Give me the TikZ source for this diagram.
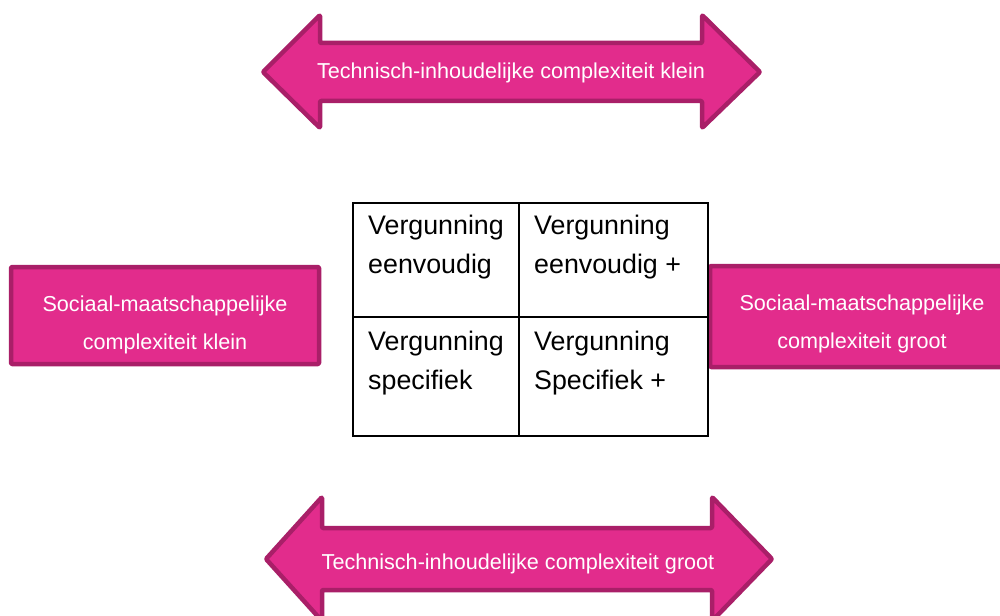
\documentclass[tikz,border=0pt]{standalone}
\usepackage{fontspec}
\setmainfont{Liberation Sans}
\definecolor{pinkfill}{HTML}{E22C8C}
\definecolor{pinkline}{HTML}{A91F68}
\begin{document}
\begin{tikzpicture}[x=1pt,y=-1pt,
  pinkshape/.style={fill=pinkfill,draw=pinkline,line width=4.5pt,line join=round,rounded corners=1pt},
  pinktext/.style={text=white,font=\fontsize{21.6}{25}\selectfont,inner sep=0pt,anchor=base},
  celltext/.style={text=black,font=\fontsize{26.8}{30}\selectfont,inner sep=0pt,anchor=base west},
  gridline/.style={draw=black,line width=2pt}]
\useasboundingbox (0,0) rectangle (1000,615);
\clip (0,0) rectangle (1000,615);
% top arrow
\draw[pinkshape] (263,72) -- (320,15) -- (320,43) -- (702,43) -- (702,15) -- (760,72) -- (702,128) -- (702,101) -- (320,101) -- (320,128) -- cycle;
\node[pinktext] (toptext) at (511,79) {Technisch-inhoudelijke complexiteit klein};
% bottom arrow
\draw[pinkshape] (266,559) -- (322,497) -- (322,528) -- (712,528) -- (712,497) -- (772,559) -- (712,621) -- (712,590) -- (322,590) -- (322,621) -- cycle;
\node[pinktext] (bottext) at (518,569) {Technisch-inhoudelijke complexiteit groot};
% left box
\draw[pinkshape] (11,267) rectangle (319,364);
\node[pinktext] (left1) at (165,311) {Sociaal-maatschappelijke};
\node[pinktext] (left2) at (165,349) {complexiteit klein};
% right box
\draw[pinkshape] (710,266) rectangle (1018,367);
\node[pinktext] (right1) at (862,310) {Sociaal-maatschappelijke};
\node[pinktext] (right2) at (862,348) {complexiteit groot};
% grid
\draw[gridline] (353,203) rectangle (708,436);
\draw[gridline] (519,203) -- (519,436);
\draw[gridline] (353,317) -- (708,317);
\node[celltext] (a1) at (368,234) {Vergunning};
\node[celltext] (a2) at (368,273) {eenvoudig};
\node[celltext] (b1) at (534,234) {Vergunning};
\node[celltext] (b2) at (534,273) {eenvoudig +};
\node[celltext] (c1) at (368,350) {Vergunning};
\node[celltext] (c2) at (368,389) {specifiek};
\node[celltext] (d1) at (534,350) {Vergunning};
\node[celltext] (d2) at (534,389) {Specifiek +};
\end{tikzpicture}
\end{document}
